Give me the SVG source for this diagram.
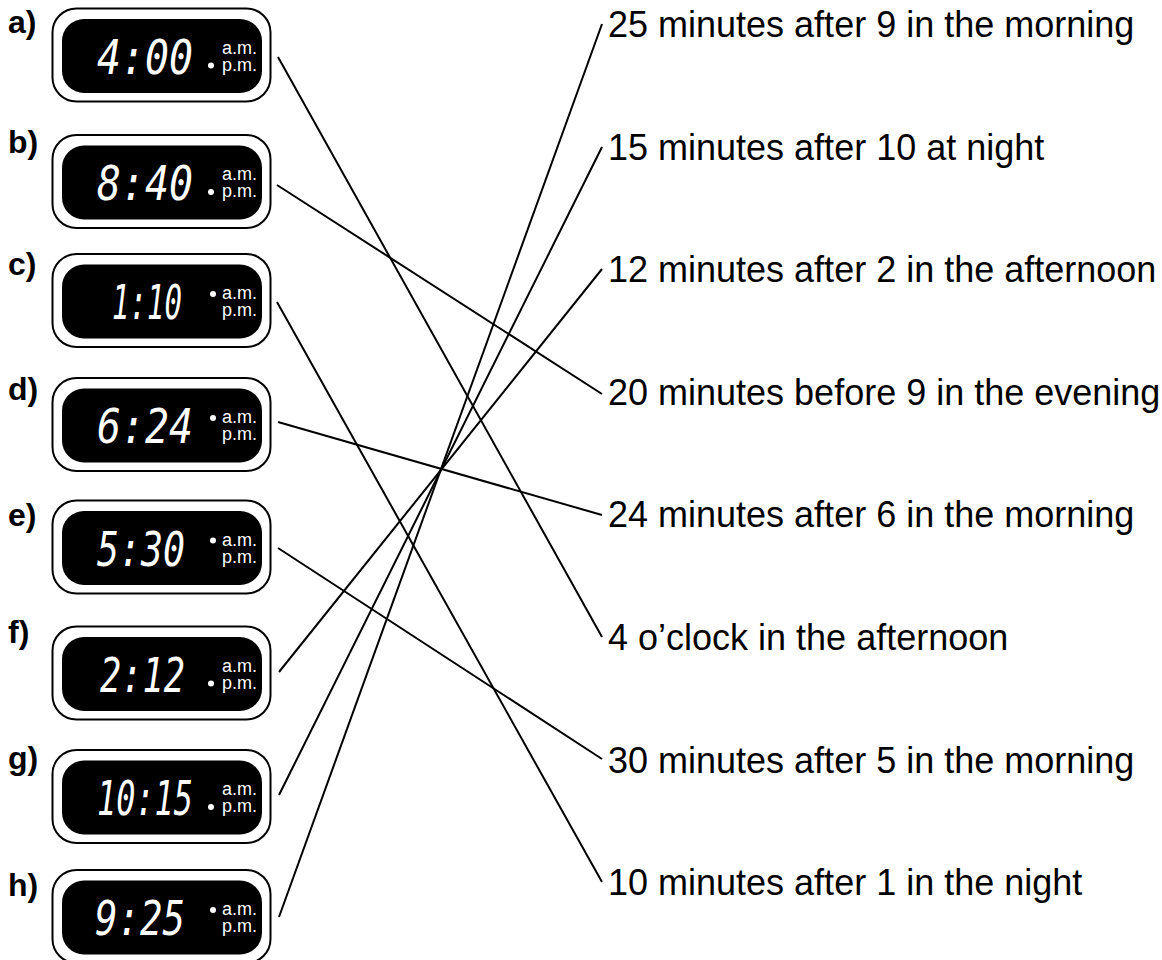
<svg xmlns="http://www.w3.org/2000/svg" width="1162" height="960" viewBox="0 0 1162 960">
<style>
.outer{fill:#fff;stroke:#000;stroke-width:2}
.inner{fill:#000}
.lbl{font-family:"Liberation Sans",Arial,sans-serif;font-weight:bold;font-size:32px;fill:#000}
.dig{font-family:"DejaVu Sans Mono","Liberation Mono",monospace;font-style:italic;font-size:48px;fill:#fff}
.ap{font-family:"Liberation Sans",Arial,sans-serif;font-size:18px;fill:#fff;text-anchor:end}
.dot{fill:#fff}
.ans{font-family:"Liberation Sans",Arial,sans-serif;font-size:36px;fill:#000}
.con line{stroke:#000;stroke-width:2;fill:none}
</style>
<rect width="1162" height="960" fill="#fff"/>
<defs>
<g id="body">
<rect class="outer" x="52.5" y="0" width="218" height="93" rx="24"/>
<rect class="inner" x="62" y="10.5" width="200" height="74" rx="22"/>
<text class="ap" x="257" y="45">a.m.</text>
<text class="ap" x="257" y="62">p.m.</text>
</g>
</defs>
<g id="clock-a" transform="translate(0,8.5)">
<text class="lbl" x="8" y="24.5">a)</text>
<use href="#body"/>
<text class="dig" x="97" y="65" textLength="96" lengthAdjust="spacingAndGlyphs">4:00</text>
<circle class="dot" cx="211" cy="57" r="3"/>
</g>
<g id="clock-b" transform="translate(0,135)">
<text class="lbl" x="8" y="18">b)</text>
<use href="#body"/>
<text class="dig" x="97" y="65" textLength="96" lengthAdjust="spacingAndGlyphs">8:40</text>
<circle class="dot" cx="211" cy="57" r="3"/>
</g>
<g id="clock-c" transform="translate(0,254)">
<text class="lbl" x="8" y="21">c)</text>
<use href="#body"/>
<text class="dig" x="112" y="65" textLength="70" lengthAdjust="spacingAndGlyphs">1:10</text>
<circle class="dot" cx="213" cy="40" r="3"/>
</g>
<g id="clock-d" transform="translate(0,378)">
<text class="lbl" x="8" y="22">d)</text>
<use href="#body"/>
<text class="dig" x="97" y="65" textLength="96" lengthAdjust="spacingAndGlyphs">6:24</text>
<circle class="dot" cx="213" cy="40" r="3"/>
</g>
<g id="clock-e" transform="translate(0,500.5)">
<text class="lbl" x="8" y="25.5">e)</text>
<use href="#body"/>
<text class="dig" x="97" y="65" textLength="88" lengthAdjust="spacingAndGlyphs">5:30</text>
<circle class="dot" cx="213" cy="40" r="3"/>
</g>
<g id="clock-f" transform="translate(0,626.5)">
<text class="lbl" x="8" y="16.5">f)</text>
<use href="#body"/>
<text class="dig" x="100" y="65" textLength="85" lengthAdjust="spacingAndGlyphs">2:12</text>
<circle class="dot" cx="211" cy="57" r="3"/>
</g>
<g id="clock-g" transform="translate(0,750)">
<text class="lbl" x="8" y="19">g)</text>
<use href="#body"/>
<text class="dig" x="97" y="65" textLength="96" lengthAdjust="spacingAndGlyphs">10:15</text>
<circle class="dot" cx="211" cy="57" r="3"/>
</g>
<g id="clock-h" transform="translate(0,870)">
<text class="lbl" x="8" y="26">h)</text>
<use href="#body"/>
<text class="dig" x="95" y="65" textLength="90" lengthAdjust="spacingAndGlyphs">9:25</text>
<circle class="dot" cx="213" cy="40" r="3"/>
</g>
<g id="answers">
<text class="ans" x="608" y="37">25 minutes after 9 in the morning</text>
<text class="ans" x="608" y="159.5">15 minutes after 10 at night</text>
<text class="ans" x="608" y="282">12 minutes after 2 in the afternoon</text>
<text class="ans" x="608" y="404.5">20 minutes before 9 in the evening</text>
<text class="ans" x="608" y="527">24 minutes after 6 in the morning</text>
<text class="ans" x="608" y="650">4 o’clock in the afternoon</text>
<text class="ans" x="608" y="772.5">30 minutes after 5 in the morning</text>
<text class="ans" x="608" y="895">10 minutes after 1 in the night</text>
</g>
<g id="connectors" class="con">
<line x1="278" y1="57" x2="602" y2="637"/>
<line x1="277" y1="185" x2="602" y2="394"/>
<line x1="277" y1="302" x2="602" y2="882"/>
<line x1="278" y1="422" x2="602" y2="515"/>
<line x1="278" y1="548" x2="602" y2="759"/>
<line x1="279" y1="672" x2="602" y2="269"/>
<line x1="279" y1="795" x2="602" y2="147"/>
<line x1="279" y1="917" x2="602" y2="24"/>
</g>
</svg>
